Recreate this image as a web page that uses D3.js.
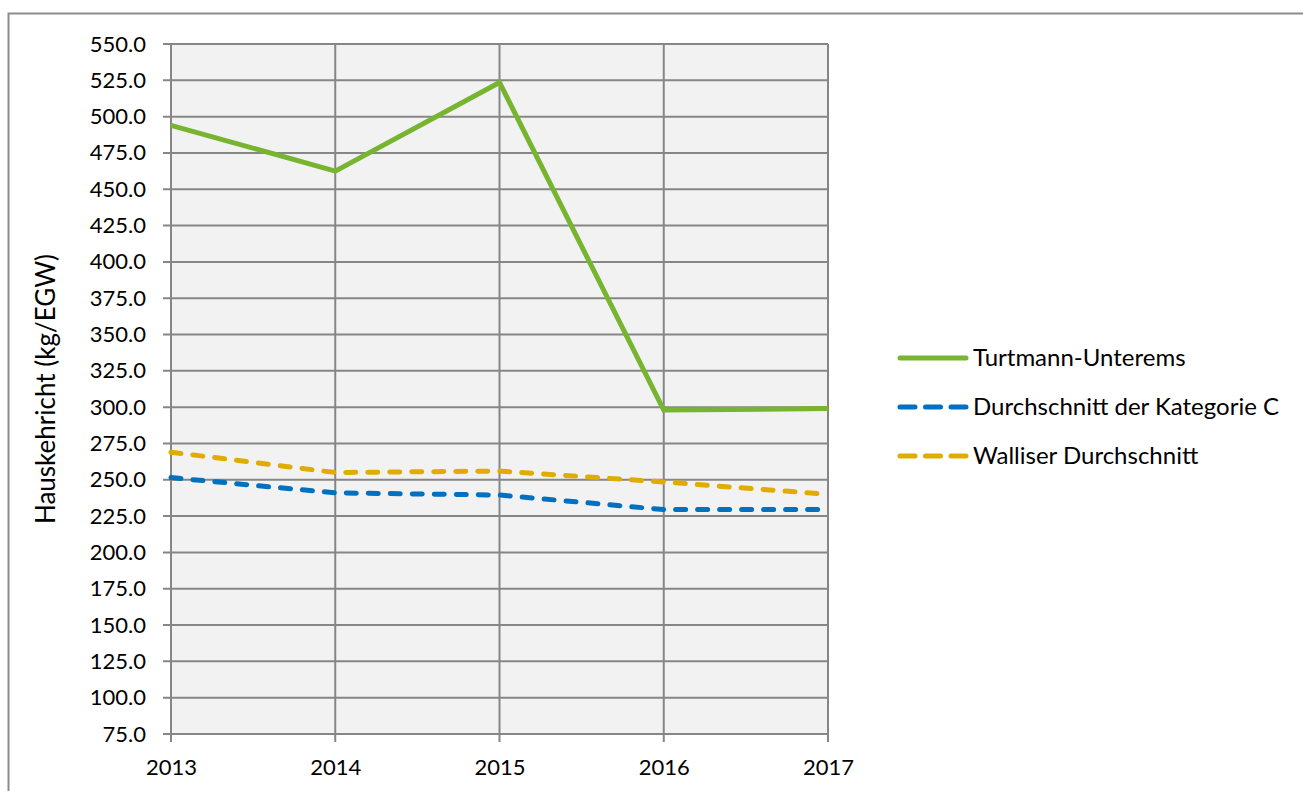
<!DOCTYPE html>
<html lang="de">
<head>
<meta charset="UTF-8">
<title>Hauskehricht</title>
<script src="https://d3js.org/d3.v7.min.js"></script>
<style>
    body { margin: 0; background: #fff; }
    svg text { font-family: Lato, "Open Sans", sans-serif; fill: #000; }
    .axis text { font-size: 22px; }
</style>
</head>
<body>
<script>
    // Chart data
    const years = ["2013", "2014", "2015", "2016", "2017"];
    const turtmann = [494.0, 462.5, 523.5, 298.0, 299.0];
    const kategorieC = [251.5, 241.0, 239.5, 229.5, 229.5];
    const wallis = [269.0, 255.0, 256.0, 248.5, 240.0];
    const seriesNames = ["Turtmann-Unterems", "Durchschnitt der Kategorie C", "Walliser Durchschnitt"];
    const yTicks = d3.range(75, 551, 25);

    const width = 1303, height = 791;
    const margin = { top: 44, right: 475, bottom: 57, left: 171 };

    const series = [
        { name: seriesNames[0], values: turtmann, color: "#77b531", dash: null },
        { name: seriesNames[1], values: kategorieC, color: "#0070c0", dash: "10,12" },
        { name: seriesNames[2], values: wallis, color: "#e0ac00", dash: "10,12" }
    ];

    const svg = d3.select("body").append("svg")
        .attr("width", width)
        .attr("height", height);

    // outer chart frame (runs past the window on the right and bottom)
    svg.append("rect")
        .attr("x", 8.5).attr("y", 13.5)
        .attr("width", 1400).attr("height", 900)
        .attr("fill", "#fff")
        .attr("stroke", "#8c8c8c")
        .attr("stroke-width", 2);

    const x = d3.scalePoint()
        .domain(years)
        .range([margin.left, width - margin.right]);

    const y = d3.scaleLinear()
        .domain([75, 550])
        .range([height - margin.bottom, margin.top]);

    // plot background
    svg.append("rect")
        .attr("x", x.range()[0]).attr("y", y(550))
        .attr("width", x.range()[1] - x.range()[0])
        .attr("height", y(75) - y(550))
        .attr("fill", "#f2f2f2");

    // horizontal grid
    svg.append("g")
        .selectAll("line")
        .data(yTicks)
        .join("line")
        .attr("x1", x.range()[0] - 8).attr("x2", x.range()[1])
        .attr("y1", d => y(d)).attr("y2", d => y(d))
        .attr("stroke", "#868686").attr("stroke-width", 2);

    // vertical grid
    svg.append("g")
        .selectAll("line")
        .data(years)
        .join("line")
        .attr("x1", d => x(d)).attr("x2", d => x(d))
        .attr("y1", y(550)).attr("y2", y(75) + 8)
        .attr("stroke", "#868686").attr("stroke-width", 2);

    // y axis labels
    svg.append("g")
        .attr("class", "axis")
        .attr("transform", `translate(${margin.left},0)`)
        .call(d3.axisLeft(y).tickValues(yTicks).tickFormat(d3.format(".1f")).tickSize(0).tickPadding(25))
        .call(g => g.select(".domain").remove())
        .selectAll("text").attr("fill", "#000");

    // x axis labels
    svg.append("g")
        .attr("class", "axis")
        .attr("transform", `translate(0,${y(75)})`)
        .call(d3.axisBottom(x).tickSize(0).tickPadding(25))
        .call(g => g.select(".domain").remove())
        .selectAll("text").attr("fill", "#000");

    // y axis title
    svg.append("text")
        .attr("transform", `translate(55,${(y(550) + y(75)) / 2}) rotate(-90)`)
        .attr("text-anchor", "middle")
        .style("font-size", "26px")
        .text("Hauskehricht (kg/EGW)");

    const line = d3.line()
        .x((d, i) => x(years[i]))
        .y(d => y(d));

    // draw series (yellow first, then blue, green on top)
    svg.append("g")
        .selectAll("path")
        .data(series.slice().reverse())
        .join("path")
        .attr("d", d => line(d.values))
        .attr("fill", "none")
        .attr("stroke", d => d.color)
        .attr("stroke-width", 5)
        .attr("stroke-dasharray", d => d.dash)
        .attr("stroke-linecap", d => d.dash ? "round" : "butt")
        .attr("stroke-linejoin", "miter");

    // legend
    const legend = svg.append("g")
        .selectAll("g")
        .data(series)
        .join("g")
        .attr("transform", (d, i) => `translate(900,${358 + i * 49})`);

    legend.append("line")
        .attr("x1", 0).attr("x2", 66)
        .attr("stroke", d => d.color)
        .attr("stroke-width", 5)
        .attr("stroke-linecap", "round")
        .attr("stroke-dasharray", d => d.dash ? "15,10.5" : null);

    legend.append("text")
        .attr("x", 73)
        .attr("dy", "0.35em")
        .style("font-size", "24px")
        .text(d => d.name);
</script>
</body>
</html>
